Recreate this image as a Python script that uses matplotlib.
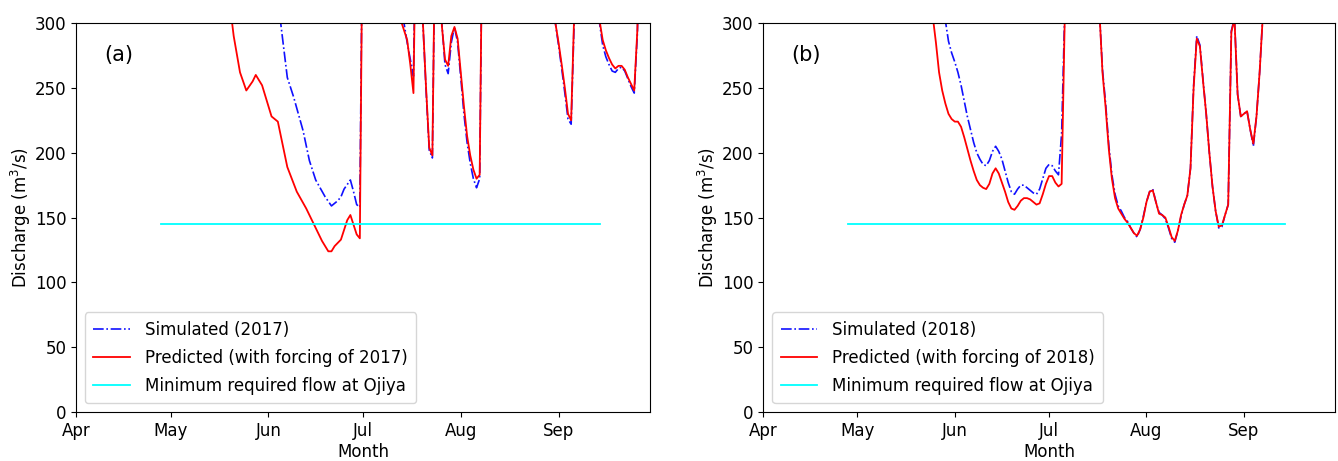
import numpy as np
import matplotlib
matplotlib.use('Agg')
import matplotlib.dates as mdates
from matplotlib import pyplot as plt

# day offsets are counted from 1 April of the year of each panel
a_sim_days = [40, 55, 60, 63, 65, 67, 69, 72, 74, 76, 79, 81, 83, 84, 85, 87, 88, 89, 90, 91,
              96, 102, 104, 105, 106, 107, 108, 110, 111, 112, 113, 114, 115, 116, 117, 118,
              119, 120, 121, 122, 123, 124, 125, 126, 127, 128, 129, 140, 151, 152, 153, 154,
              155, 156, 157, 158, 159, 163, 166, 167, 168, 169, 170, 171, 172, 173, 174, 175,
              176, 177, 178, 179, 182]
a_sim = [600, 500, 420, 340, 298, 258, 243, 217, 194, 179, 166, 159, 163, 166, 172, 179, 170,
         160, 158, 420, 520, 400, 300, 285, 272, 259, 420, 300, 248, 202, 196, 400, 380, 300,
         268, 261, 285, 297, 285, 258, 230, 208, 192, 180, 173, 180, 420, 600, 350, 300, 283,
         265, 246, 226, 222, 305, 420, 360, 300, 283, 274, 268, 263, 262, 265, 266, 263, 257,
         251, 246, 292, 400, 450]

a_pred_days = [30, 40, 46, 48, 50, 52, 54, 56, 57, 59, 62, 64, 67, 70, 73, 76, 78, 80, 81, 82,
               84, 86, 87, 89, 90, 91, 96, 102, 103, 105, 106, 107, 108, 110, 111, 112, 113,
               114, 115, 116, 117, 118, 119, 120, 121, 122, 123, 124, 125, 126, 127, 128, 129,
               140, 151, 152, 153, 154, 155, 156, 157, 158, 159, 163, 166, 167, 168, 169, 170,
               171, 172, 173, 174, 175, 176, 177, 178, 179, 182]
a_pred = [600, 500, 380, 330, 290, 262, 248, 255, 260, 252, 228, 224, 189, 170, 157, 142, 132,
          124, 124, 128, 133, 148, 152, 137, 134, 420, 520, 400, 302, 287, 268, 246, 420, 300,
          250, 204, 198, 400, 380, 298, 272, 267, 290, 297, 288, 262, 236, 213, 198, 187, 180,
          183, 420, 600, 350, 300, 285, 268, 250, 230, 225, 310, 420, 360, 302, 287, 279, 273,
          268, 265, 267, 267, 264, 258, 253, 248, 295, 400, 450]

b_days = [30, 45, 50, 53, 54, 55, 56, 57, 58, 59, 60, 61, 62, 63, 64, 65, 66, 67, 68, 69, 70,
          71, 72, 73, 74, 75, 76, 77, 78, 79, 80, 81, 82, 83, 84, 85, 86, 87, 88, 89, 90, 91,
          92, 93, 94, 95, 96, 97, 100, 104, 107, 108, 109, 110, 111, 112, 113, 114, 115, 116,
          117, 118, 119, 120, 121, 122, 123, 124, 125, 126, 127, 128, 129, 130, 131, 132, 133,
          134, 135, 136, 137, 138, 139, 140, 141, 142, 143, 144, 145, 146, 147, 148, 149, 150,
          151, 152, 153, 154, 155, 156, 157, 158, 159, 165, 182]
b_sim = [600, 500, 460, 440, 425, 420, 380, 330, 302, 286, 277, 270, 262, 252, 240, 228, 218,
         208, 200, 195, 191, 190, 194, 201, 205, 201, 195, 186, 177, 170, 168, 172, 175, 175,
         173, 171, 169, 168, 172, 180, 188, 191, 190, 186, 183, 215, 310, 420, 520, 420, 310,
         264, 238, 206, 183, 168, 159, 155, 150, 147, 142, 138, 135, 141, 151, 162, 170, 172,
         162, 154, 152, 149, 142, 134, 131, 140, 151, 160, 167, 188, 252, 290, 283, 256, 230,
         200, 174, 155, 142, 143, 152, 160, 294, 304, 245, 228, 230, 232, 218, 205, 228, 262,
         305, 450, 500]
b_pred = [600, 480, 420, 330, 305, 285, 262, 248, 238, 230, 226, 224, 224, 220, 212, 203, 194,
          186, 179, 175, 173, 172, 176, 184, 188, 184, 177, 170, 162, 157, 156, 159, 163, 165,
          165, 164, 162, 160, 161, 168, 176, 182, 182, 177, 174, 176, 305, 420, 520, 420, 310,
          262, 235, 203, 180, 165, 157, 153, 149, 146, 142, 138, 136, 141, 150, 162, 170, 171,
          162, 153, 152, 150, 143, 135, 132, 140, 152, 160, 167, 188, 250, 288, 282, 255, 230,
          200, 174, 155, 143, 144, 152, 160, 293, 303, 245, 228, 230, 232, 218, 207, 228, 262,
          305, 450, 500]

min_flow = 145
min_flow_days = [27, 166]
years = [2017, 2018]
panel_tags = ['(a)', '(b)']


def to_dates(year, days):
    return np.datetime64(f'{year}-04-01') + np.array(days).astype('timedelta64[D]')


def draw_panel(ax, year, tag, sim_days, sim, pred_days, pred):
    ax.plot(to_dates(year, sim_days), sim, color='#1010ff', ls='-.', lw=1.2,
            label=f'Simulated ({year})')
    ax.plot(to_dates(year, pred_days), pred, color='red', lw=1.3,
            label=f'Predicted (with forcing of {year})')
    ax.plot(to_dates(year, min_flow_days), [min_flow, min_flow], color='cyan', lw=1.3,
            label='Minimum required flow at Ojiya')

    ax.set_xlim(np.datetime64(f'{year}-04-01'), np.datetime64(f'{year}-09-30'))
    ax.set_ylim(0, 300)
    ax.set_yticks(np.arange(0, 301, 50))
    ax.xaxis.set_major_locator(mdates.MonthLocator())
    ax.xaxis.set_major_formatter(mdates.DateFormatter('%b'))
    ax.tick_params(labelsize=12, pad=3.5)
    ax.set_xlabel('Month', fontsize=12, labelpad=2.5)
    ax.set_ylabel('Discharge (m$^3$/s)', fontsize=12, labelpad=1)
    ax.text(0.05, 0.918, tag, transform=ax.transAxes, fontsize=15, va='center')
    ax.legend(loc='lower left', borderaxespad=0.55, handlelength=2.2, handletextpad=0.9,
              fontsize=12, labelspacing=0.6, borderpad=0.5)


plt.rcParams['font.family'] = 'DejaVu Sans'
plt.rcParams['font.size'] = 12

fig = plt.figure(figsize=(13.38, 4.61), dpi=100)
ax_a = fig.add_axes([0.0568, 0.106, 0.429, 0.844])
ax_b = fig.add_axes([0.5703, 0.106, 0.4275, 0.844])

draw_panel(ax_a, years[0], panel_tags[0], a_sim_days, a_sim, a_pred_days, a_pred)
draw_panel(ax_b, years[1], panel_tags[1], b_days, b_sim, b_days, b_pred)

fig.savefig('out.png', dpi=100)
